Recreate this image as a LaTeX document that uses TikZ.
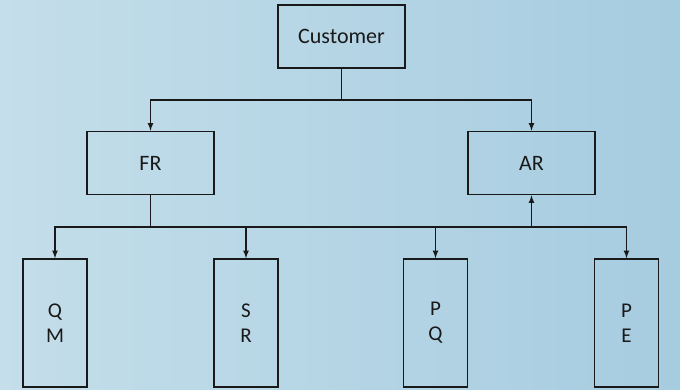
\documentclass[tikz,border=0pt]{standalone}
\usepackage{fontspec}
\setmainfont{Carlito}
\usetikzlibrary{arrows}
\definecolor{bgleft}{RGB}{196,222,234}
\definecolor{bgright}{RGB}{166,204,224}
\definecolor{inkcolor}{RGB}{25,25,25}
\tikzset{
  box/.style    = {draw=inkcolor, line width=1.6pt, text=inkcolor,
                   font=\fontsize{22}{25}\selectfont, inner sep=0pt},
  widebox/.style = {box, minimum width=127pt, minimum height=63pt},
  tallbox/.style = {box, minimum width=64pt, minimum height=128pt,
                   align=center, font=\fontsize{21}{25}\selectfont},
  wire/.style   = {draw=inkcolor, line width=1.6pt},
  feed/.style   = {wire, -latex}
}

\begin{document}
\begin{tikzpicture}[x=1pt,y=-1pt]
% fondo
\shade[left color=bgleft, right color=bgright] (0,0) rectangle (680,390);
\useasboundingbox (0,0) rectangle (680,390);

% nivel superior
\node[widebox] (cust) at (341.5,36.5) {Customer};

% nivel medio
\node[widebox] (fr) at (150.5,163) {FR};
\node[widebox] (ar) at (531.5,163) {AR};

% nivel inferior
\node[tallbox] (qm) at (55,323)    {Q\\M};
\node[tallbox] (sr) at (246,323)   {S\\R};
\node[tallbox] (pq) at (435.5,323) {P\\Q};
\node[tallbox] (pe) at (626.5,323) {P\\E};

% barra superior
\coordinate (topbus) at (cust.south |- 0,100);
\draw[wire] (cust.south) -- (topbus);
\draw[feed] (topbus) -| (fr.north);
\draw[feed] (topbus) -| (ar.north);

% barra inferior
\coordinate (lowbus) at (fr.south |- 0,227);
\draw[wire] (fr.south) -- (lowbus);
\draw[feed] (lowbus) -| (qm.north);
\draw[feed] (lowbus) -| (sr.north);
\draw[feed] (lowbus) -| (pq.north);
\draw[feed] (lowbus) -| (pe.north);
\draw[feed] (ar.south |- lowbus) -- (ar.south);

\end{tikzpicture}
\end{document}
